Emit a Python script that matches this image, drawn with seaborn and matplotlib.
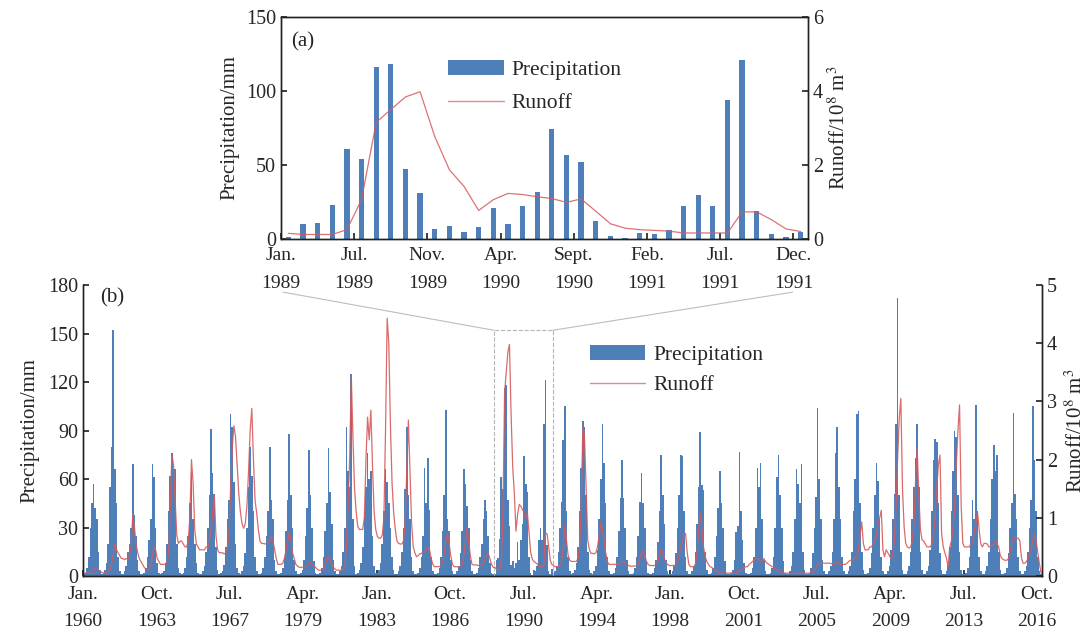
# Precipitation and runoff, monthly series with a 1989-1991 inset
import numpy as np
import pandas as pd
import matplotlib
matplotlib.use("Agg")
import matplotlib.pyplot as plt
import seaborn as sns
from matplotlib.patches import Rectangle, ConnectionPatch, Patch
from matplotlib.lines import Line2D

# -------------------------------------
# Data (monthly, Jan..Dec per row)
# -------------------------------------
years_early = list(range(1960, 1971))
years_late = list(range(1979, 2017))

precip_1960_1970 = [
    [1, 2, 5, 12, 30, 45, 57, 42, 35, 15, 4, 1],
    [2, 4, 8, 20, 55, 80, 152, 66, 45, 12, 3, 1],
    [1, 3, 6, 15, 20, 30, 69, 38, 25, 10, 3, 1],
    [1, 2, 5, 12, 22, 35, 69, 61, 30, 8, 2, 1],
    [2, 3, 8, 20, 40, 62, 76, 66, 66, 20, 5, 2],
    [1, 2, 5, 12, 25, 45, 64, 35, 20, 8, 2, 1],
    [1, 3, 6, 15, 30, 50, 91, 64, 51, 18, 4, 1],
    [2, 3, 7, 18, 35, 47, 100, 92, 58, 20, 5, 2],
    [1, 3, 6, 14, 30, 55, 80, 62, 40, 12, 3, 1],
    [1, 2, 5, 12, 25, 40, 80, 47, 35, 10, 3, 1],
    [1, 2, 5, 12, 28, 47, 88, 50, 30, 10, 3, 1],
]
precip_1979_1999 = [
    [1, 2, 4, 10, 25, 42, 78, 50, 30, 9, 2, 1],
    [1, 2, 5, 12, 28, 45, 79, 52, 32, 10, 3, 1],
    [1, 3, 6, 15, 30, 92, 65, 55, 125, 35, 6, 1],
    [2, 4, 8, 18, 40, 55, 76, 60, 65, 25, 6, 2],
    [2, 4, 8, 20, 40, 66, 58, 45, 30, 12, 4, 1],
    [1, 3, 6, 15, 30, 54, 92, 50, 35, 12, 3, 1],
    [1, 2, 5, 12, 25, 67, 45, 73, 41, 12, 3, 1],
    [1, 2, 5, 12, 28, 50, 103, 35, 28, 10, 3, 1],
    [1, 3, 6, 14, 28, 66, 57, 43, 30, 10, 3, 1],
    [1, 2, 5, 12, 20, 35, 47, 40, 25, 8, 2, 1],
    [1, 10, 11, 23, 61, 54, 116, 118, 47, 31, 7, 9],
    [5, 8, 21, 10, 22, 32, 74, 57, 52, 12, 2, 0.5],
    [4, 3, 6, 22, 30, 22, 94, 121, 19, 3, 1, 4.5],
    [2, 3, 6, 15, 30, 46, 84, 105, 40, 12, 3, 1],
    [2, 4, 8, 18, 40, 67, 96, 92, 50, 15, 4, 2],
    [1, 3, 6, 16, 35, 60, 94, 70, 45, 12, 3, 1],
    [1, 2, 5, 12, 28, 48, 72, 48, 30, 10, 3, 1],
    [1, 2, 5, 12, 25, 46, 64, 45, 30, 9, 2, 1],
    [1, 2, 5, 10, 21, 40, 75, 50, 32, 10, 3, 1],
    [1, 3, 6, 14, 30, 50, 75, 74, 40, 12, 3, 1],
    [1, 3, 6, 15, 32, 55, 89, 56, 53, 15, 4, 1],
]
precip_2000_2016 = [
    [1, 2, 5, 12, 25, 42, 65, 45, 30, 9, 2, 1],
    [1, 2, 4, 10, 27, 31, 77, 40, 22, 8, 2, 1],
    [1, 2, 5, 12, 30, 67, 55, 70, 35, 10, 3, 1],
    [1, 2, 5, 12, 30, 61, 75, 50, 30, 9, 2, 1],
    [1, 3, 6, 15, 35, 66, 57, 45, 69, 15, 4, 1],
    [1, 2, 5, 14, 30, 49, 104, 60, 35, 10, 3, 1],
    [1, 3, 6, 15, 35, 76, 92, 55, 35, 12, 3, 1],
    [1, 3, 6, 15, 40, 60, 100, 102, 45, 15, 4, 1],
    [1, 2, 5, 14, 30, 50, 70, 59, 35, 12, 3, 1],
    [1, 3, 6, 16, 35, 51, 94, 172, 50, 15, 4, 1],
    [1, 3, 6, 15, 35, 55, 73, 94, 55, 15, 4, 1],
    [1, 3, 6, 16, 40, 72, 85, 83, 45, 14, 4, 1],
    [1, 3, 7, 18, 40, 65, 90, 86, 50, 15, 4, 1],
    [1, 2, 5, 12, 25, 47, 35, 106, 40, 12, 3, 1],
    [1, 3, 6, 15, 35, 60, 81, 65, 75, 15, 4, 1],
    [1, 2, 5, 14, 30, 45, 101, 51, 35, 12, 3, 1],
    [1, 3, 6, 15, 30, 47, 105, 72, 40, 12, 3, 1],
]

runoff_1960_1970 = [
    [0.05, 0.05, 0.05, 0.05, 0.05, 0.05, 0.1, 0.15, 0.15, 0.1, 0.08, 0.06],
    [0.05, 0.05, 0.05, 0.08, 0.1, 0.2, 0.35, 0.56, 0.45, 0.4, 0.35, 0.3],
    [0.3, 0.28, 0.3, 0.3, 0.35, 0.5, 1.05, 0.85, 0.55, 0.4, 0.3, 0.25],
    [0.2, 0.15, 0.12, 0.1, 0.12, 0.15, 0.35, 0.5, 0.45, 0.3, 0.25, 0.2],
    [0.2, 0.2, 0.2, 0.25, 0.4, 1.2, 2.1, 1.9, 1.3, 0.7, 0.56, 0.6],
    [0.6, 0.55, 0.5, 0.5, 0.6, 1.0, 2.0, 1.6, 0.8, 0.55, 0.5, 0.45],
    [0.45, 0.45, 0.45, 0.5, 0.5, 0.6, 0.8, 1.1, 1.39, 0.7, 0.45, 0.4],
    [0.4, 0.4, 0.38, 0.4, 0.5, 0.7, 1.5, 2.2, 2.58, 2.4, 1.9, 1.42],
    [1.1, 0.9, 0.82, 0.9, 1.2, 1.8, 2.5, 2.88, 2.0, 1.3, 1.08, 0.8],
    [0.6, 0.56, 0.56, 0.55, 0.56, 0.58, 0.6, 0.68, 0.6, 0.45, 0.3, 0.2],
    [0.2, 0.2, 0.22, 0.3, 0.45, 0.6, 0.76, 0.6, 0.4, 0.3, 0.2, 0.17],
]
runoff_1979_1999 = [
    [0.15, 0.15, 0.15, 0.15, 0.15, 0.18, 0.22, 0.25, 0.2, 0.18, 0.15, 0.12],
    [0.1, 0.1, 0.1, 0.12, 0.2, 0.3, 0.33, 0.3, 0.2, 0.15, 0.12, 0.1],
    [0.1, 0.1, 0.1, 0.12, 0.15, 0.5, 1.2, 2.0, 3.45, 2.4, 1.5, 1.1],
    [0.85, 0.8, 0.8, 0.8, 1.0, 2.0, 2.73, 2.34, 2.85, 1.9, 1.1, 0.8],
    [0.68, 0.65, 0.65, 0.7, 1.0, 2.5, 4.43, 4.0, 2.6, 1.6, 1.08, 0.8],
    [0.6, 0.56, 0.55, 0.55, 0.6, 0.9, 1.8, 2.68, 1.8, 0.9, 0.5, 0.4],
    [0.33, 0.35, 0.38, 0.39, 0.4, 0.42, 0.45, 0.5, 0.45, 0.3, 0.2, 0.16],
    [0.16, 0.16, 0.16, 0.18, 0.25, 0.4, 0.6, 0.73, 0.55, 0.35, 0.2, 0.16],
    [0.16, 0.16, 0.15, 0.16, 0.2, 0.35, 0.6, 0.82, 0.6, 0.35, 0.2, 0.19],
    [0.19, 0.19, 0.18, 0.19, 0.2, 0.22, 0.3, 0.35, 0.39, 0.3, 0.2, 0.15],
    [0.15, 0.12, 0.12, 0.12, 0.25, 1.06, 3.15, 3.5, 3.84, 3.98, 2.77, 1.87],
    [1.42, 0.77, 1.06, 1.23, 1.2, 1.14, 1.09, 0.99, 1.08, 0.75, 0.41, 0.29],
    [0.25, 0.23, 0.21, 0.16, 0.16, 0.16, 0.16, 0.73, 0.73, 0.52, 0.27, 0.2],
    [0.18, 0.16, 0.16, 0.16, 0.18, 0.25, 0.5, 0.88, 0.6, 0.35, 0.27, 0.25],
    [0.25, 0.25, 0.25, 0.3, 0.5, 1.2, 2.57, 2.4, 1.5, 0.62, 0.45, 0.39],
    [0.39, 0.38, 0.4, 0.5, 0.7, 0.93, 0.8, 0.6, 0.4, 0.25, 0.2, 0.2],
    [0.2, 0.2, 0.2, 0.2, 0.2, 0.22, 0.25, 0.25, 0.22, 0.2, 0.18, 0.17],
    [0.17, 0.17, 0.17, 0.18, 0.2, 0.3, 0.4, 0.44, 0.35, 0.25, 0.2, 0.18],
    [0.18, 0.18, 0.18, 0.2, 0.25, 0.35, 0.45, 0.4, 0.3, 0.22, 0.2, 0.18],
    [0.18, 0.18, 0.18, 0.2, 0.25, 0.35, 0.5, 0.6, 0.7, 0.73, 0.4, 0.2],
    [0.16, 0.16, 0.16, 0.2, 0.4, 0.8, 1.08, 0.8, 0.5, 0.33, 0.25, 0.2],
]
runoff_2000_2016 = [
    [0.16, 0.15, 0.12, 0.1, 0.08, 0.06, 0.05, 0.05, 0.05, 0.05, 0.05, 0.05],
    [0.05, 0.05, 0.05, 0.05, 0.05, 0.06, 0.08, 0.1, 0.12, 0.15, 0.16, 0.16],
    [0.2, 0.22, 0.25, 0.27, 0.3, 0.3, 0.28, 0.25, 0.27, 0.3, 0.25, 0.22],
    [0.2, 0.18, 0.16, 0.15, 0.12, 0.1, 0.08, 0.06, 0.05, 0.05, 0.05, 0.05],
    [0.05, 0.05, 0.05, 0.04, 0.04, 0.04, 0.05, 0.05, 0.05, 0.05, 0.05, 0.05],
    [0.05, 0.05, 0.06, 0.08, 0.1, 0.15, 0.19, 0.22, 0.22, 0.22, 0.22, 0.22],
    [0.22, 0.22, 0.22, 0.2, 0.2, 0.22, 0.25, 0.22, 0.2, 0.2, 0.2, 0.2],
    [0.22, 0.25, 0.27, 0.27, 0.28, 0.3, 0.33, 0.45, 0.7, 0.93, 0.56, 0.45],
    [0.45, 0.45, 0.5, 0.5, 0.55, 0.6, 0.7, 0.9, 1.0, 1.13, 0.45, 0.33],
    [0.45, 0.4, 0.35, 0.3, 0.35, 0.6, 1.2, 2.0, 2.7, 3.05, 1.5, 0.85],
    [0.56, 0.5, 0.48, 0.5, 0.6, 0.9, 1.6, 2.19, 1.42, 0.8, 0.62, 0.6],
    [0.55, 0.5, 0.5, 0.5, 0.55, 0.7, 1.0, 1.5, 1.9, 2.08, 0.73, 0.5],
    [0.4, 0.3, 0.16, 0.5, 0.6, 0.8, 1.2, 1.88, 2.5, 2.94, 1.2, 0.56],
    [0.5, 0.5, 0.5, 0.5, 0.55, 0.6, 0.75, 0.9, 1.1, 0.8, 0.55, 0.5],
    [0.56, 0.56, 0.55, 0.5, 0.5, 0.52, 0.55, 0.6, 0.55, 0.5, 0.35, 0.3],
    [0.28, 0.27, 0.27, 0.3, 0.4, 0.55, 0.65, 0.65, 0.65, 0.65, 0.6, 0.3],
    [0.22, 0.22, 0.25, 0.3, 0.4, 0.5, 0.6, 0.73, 0.6, 0.4, 0.2, 0.05],
]

main_tick_labels = ["Jan.\n1960", "Oct.\n1963", "Jul.\n1967", "Apr.\n1979",
                    "Jan.\n1983", "Oct.\n1986", "Jul.\n1990", "Apr.\n1994",
                    "Jan.\n1998", "Oct.\n2001", "Jul.\n2005", "Apr.\n2009",
                    "Jul.\n2013", "Oct.\n2016"]
inset_tick_labels = ["Jan.\n1989", "Jul.\n1989", "Nov.\n1989", "Apr.\n1990",
                     "Sept.\n1990", "Feb.\n1991", "Jul.\n1991", "Dec.\n1991"]
inset_years = [1989, 1990, 1991]

# -------------------------------------
# Build table
# -------------------------------------
precip = np.concatenate([np.ravel(precip_1960_1970), np.ravel(precip_1979_1999),
                         np.ravel(precip_2000_2016)])
runoff = np.concatenate([np.ravel(runoff_1960_1970), np.ravel(runoff_1979_1999),
                         np.ravel(runoff_2000_2016)])
years = np.repeat(years_early + years_late, 12)
df = pd.DataFrame({"idx": np.arange(len(precip)), "year": years,
                   "precip": precip, "runoff": runoff})

sub = df[df["year"].isin(inset_years)].copy()
sub["idx"] = np.arange(len(sub))
start = df.index[df["year"] == inset_years[0]][0]

# -------------------------------------
# Style
# -------------------------------------
sns.set_theme(style="ticks")
plt.rcParams["font.family"] = ["Liberation Serif", "DejaVu Serif"]
plt.rcParams["mathtext.fontset"] = "stix"
plt.rcParams["axes.edgecolor"] = "#222222"
plt.rcParams["axes.linewidth"] = 1.0

BAR = "#4f7fb9"
RED = "#d65a5c"
TICK_FS = 14
LAB_FS = 15
LEG_FS = 15.5

fig = plt.figure(figsize=(10.91, 6.32), dpi=100)

# -------------------------------------
# Panel (b): full series
# -------------------------------------
ax = fig.add_axes([0.0761, 0.0886, 0.8789, 0.4604])
sns.barplot(data=df, x="idx", y="precip", native_scale=True, color=BAR,
            saturation=1, width=1.0, errorbar=None, linewidth=0, ax=ax)
ax.set_xlim(-0.5, len(df) - 0.5)
ax.set_ylim(0, 180)
ax.set_yticks(range(0, 181, 30))
ax.set_xticks([-0.5 + 45 * k for k in range(len(main_tick_labels))])
ax.set_xticklabels(main_tick_labels, fontsize=TICK_FS, linespacing=1.8)
ax.set_xlabel("")
ax.set_ylabel("Precipitation/mm", fontsize=LAB_FS, labelpad=6)
ax.tick_params(axis="x", direction="in", length=4, labelsize=TICK_FS, pad=7)
ax.tick_params(axis="y", direction="in", length=4, labelsize=TICK_FS + 0.5)
ax.spines["top"].set_visible(False)

ax2 = ax.twinx()
sns.lineplot(x=df["idx"], y=df["runoff"], color=RED, linewidth=0.9,
             alpha=0.9, errorbar=None, ax=ax2)
ax2.set_ylim(0, 5)
ax2.set_yticks(range(0, 6))
ax2.set_xlim(-0.5, len(df) - 0.5)
ax2.set_ylabel(r"Runoff/10$^8$ m$^3$", fontsize=LAB_FS, labelpad=6)
ax2.tick_params(direction="in", length=4, labelsize=TICK_FS + 0.5)
ax2.spines["top"].set_visible(False)

ax.text(0.018, 0.955, "(b)", transform=ax.transAxes, fontsize=LAB_FS,
        va="center", ha="left")

handles = [Patch(facecolor=BAR, edgecolor="none"),
           Line2D([], [], color=RED, linewidth=1, alpha=0.7)]
ax2.legend(handles, ["Precipitation", "Runoff"], loc="upper left",
           bbox_to_anchor=(0.508, 0.862), frameon=False, fontsize=LEG_FS,
           handlelength=2.6, handletextpad=0.35, labelspacing=0.5)

# dashed box marking the inset period
box = Rectangle((start - 0.5, 0), 36, 152, fill=False, linestyle="--",
                edgecolor="#b5b5b5", linewidth=0.8, zorder=5)
ax.add_patch(box)

# -------------------------------------
# Panel (a): inset 1989-1991
# -------------------------------------
ax_in = fig.add_axes([0.2576, 0.622, 0.483, 0.351])
sns.barplot(data=sub, x="idx", y="precip", native_scale=True, color=BAR,
            saturation=1, width=0.36, errorbar=None, linewidth=0, ax=ax_in)
ax_in.set_xlim(-0.5, 35.5)
ax_in.set_ylim(0, 150)
ax_in.set_yticks([0, 50, 100, 150])
ax_in.set_xticks([-0.5 + 5 * k for k in range(len(inset_tick_labels))])
ax_in.set_xticklabels(inset_tick_labels, fontsize=TICK_FS, linespacing=1.8)
ax_in.set_xlabel("")
ax_in.set_ylabel("Precipitation/mm", fontsize=LAB_FS, labelpad=5)
ax_in.tick_params(axis="x", direction="in", length=4, labelsize=TICK_FS, pad=6)
ax_in.tick_params(axis="y", direction="in", length=4, labelsize=TICK_FS + 0.5)

ax_in2 = ax_in.twinx()
sns.lineplot(x=sub["idx"], y=sub["runoff"], color=RED, linewidth=0.9,
             alpha=0.85, errorbar=None, ax=ax_in2)
ax_in2.set_ylim(0, 6)
ax_in2.set_yticks([0, 2, 4, 6])
ax_in2.set_xlim(-0.5, 35.5)
ax_in2.set_ylabel(r"Runoff/10$^8$ m$^3$", fontsize=LAB_FS, labelpad=4)
ax_in2.tick_params(direction="in", length=4, labelsize=TICK_FS + 0.5)

ax_in.text(0.02, 0.89, "(a)", transform=ax_in.transAxes, fontsize=LAB_FS,
           va="center", ha="left")
ax_in2.legend(handles, ["Precipitation", "Runoff"], loc="upper left",
              bbox_to_anchor=(0.28, 0.893), frameon=False, fontsize=LEG_FS,
              handlelength=2.6, handletextpad=0.35, labelspacing=0.6)

# guide lines from box to inset
for xa, xb in [(start - 0.5, 0.004), (start + 35.5, 0.971)]:
    con = ConnectionPatch(xyA=(xa, 152), coordsA=ax.transData,
                          xyB=(xb, -0.24), coordsB=ax_in.transAxes,
                          color="#bdbdbd", linewidth=0.8)
    fig.add_artist(con)

fig.savefig("out.png", dpi=100)
